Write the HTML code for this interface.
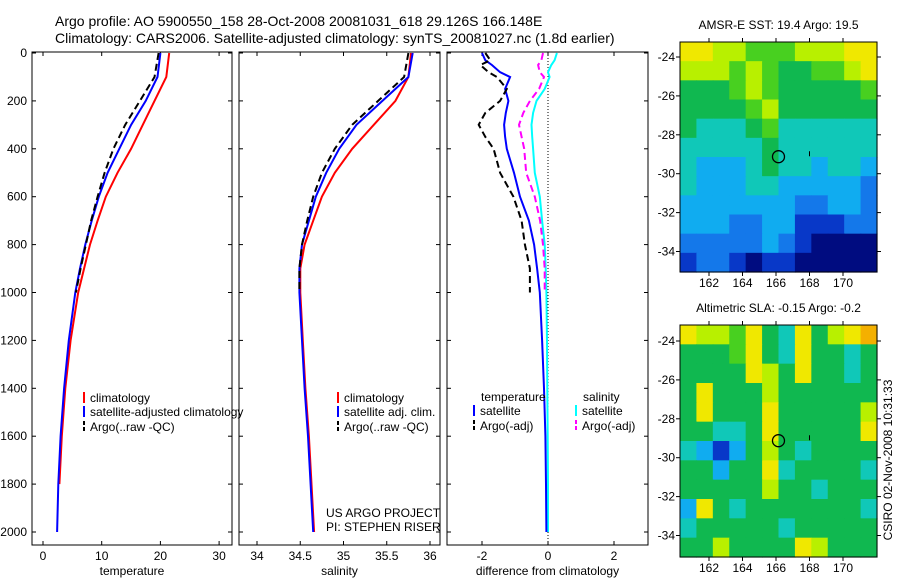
<!DOCTYPE html>
<html><head><meta charset="utf-8"><style>
body{margin:0;background:#fff;}
svg{font-family:"Liberation Sans",sans-serif;}
</style></head><body>
<svg id="c" width="900" height="580">
<text x="55" y="26" font-size="14">Argo profile: AO 5900550_158 28-Oct-2008 20081031_618 29.126S 166.148E</text>
<text x="55" y="43" font-size="14">Climatology: CARS2006. Satellite-adjusted climatology: synTS_20081027.nc (1.8d earlier)</text>
<text transform="translate(892,460) rotate(-90)" font-size="12" text-anchor="middle">CSIRO 02-Nov-2008 10:31:33</text>
<g id="g"></g>
</svg>
<script>
const NS="http://www.w3.org/2000/svg";
const g=document.getElementById('g');
function el(t,a,p){const e=document.createElementNS(NS,t);for(const k in a)e.setAttribute(k,a[k]);(p||g).appendChild(e);return e;}
// data
const pres=[0,100,200,300,400,500,600,700,800,900,1000,1200,1400,1600,1800,2000];
const tClim=[21.5,21,19,17,15,12.7,10.7,9.3,8,7,6,4.7,3.8,3.2,2.8];
const tSat=[20,19.5,17.5,15,13,11,9.5,8.3,7.2,6.3,5.5,4.4,3.6,3.0,2.6,2.4];
const tArgo=[19.7,19,16.5,14,12,10.5,9.3,8.2,7.3,6.4,5.6];
const sClim=[35.78,35.75,35.6,35.35,35.1,34.9,34.75,34.65,34.55,34.5,34.5,34.53,34.56,34.6,34.63,34.66];
const sSat=[35.8,35.75,35.45,35.15,34.95,34.8,34.68,34.6,34.52,34.49,34.49,34.52,34.55,34.59,34.62,34.65];
const sArgo=[35.75,35.7,35.4,35.1,34.9,34.75,34.65,34.58,34.52,34.49,34.49];
const dPres=[0,30,50,80,100,150,200,250,300,350,400,500,600,700,800,900,1000,1200,1400,1600,1800,2000];
const dTSat=[-2.0,-1.9,-1.7,-1.45,-1.15,-1.3,-1.2,-1.28,-1.33,-1.3,-1.25,-1.03,-0.85,-0.58,-0.42,-0.33,-0.25,-0.18,-0.12,-0.08,-0.06,-0.05];
const dTArgo=[-1.9,-1.75,-2.05,-1.8,-1.55,-1.25,-1.45,-1.9,-2.1,-1.9,-1.65,-1.45,-1.05,-0.8,-0.7,-0.55,-0.55];
const dSSat=[0.27,0.2,0.1,0,0.05,-0.1,-0.35,-0.45,-0.5,-0.48,-0.45,-0.4,-0.25,-0.18,-0.1,-0.07,-0.05,-0.03,-0.02,-0.01,0,0];
const dSArgo=[-0.15,-0.2,-0.3,-0.25,-0.12,-0.27,-0.55,-0.75,-0.88,-0.8,-0.72,-0.66,-0.4,-0.24,-0.15,-0.1,-0.1];
const yTicks=[0,200,400,600,800,1000,1200,1400,1600,1800,2000];
const TOP=52,BOT=545;
const py=p=>53+p*0.2395;
const panels=[
 {name:'temperature',x0:32,x1:232,v0:0,px0:43,k:5.87,ticks:[0,10,20,30],lab:'temperature'},
 {name:'salinity',x0:239,x1:440,v0:34,px0:257,k:86.5,ticks:[34,34.5,35,35.5,36],lab:'salinity'},
 {name:'difference',x0:447,x1:648,v0:0,px0:548,k:33,ticks:[-2,0,2],lab:'difference from climatology'}];
panels.forEach((P,i)=>{
 const r=el('rect',{x:P.x0,y:TOP,width:P.x1-P.x0,height:BOT-TOP,fill:'#fff',stroke:'#000','stroke-width':1});
 
 
 yTicks.forEach(t=>{
  el('line',{x1:P.x0,x2:P.x0+4,y1:py(t),y2:py(t),stroke:'#000'});
  el('line',{x1:P.x1,x2:P.x1-4,y1:py(t),y2:py(t),stroke:'#000'});
  if(i==0){const tx=el('text',{x:P.x0-5,y:py(t)+4,'font-size':12,'text-anchor':'end'});tx.textContent=t;
   
   }
 });
 P.ticks.forEach(t=>{const x=P.px0+(t-P.v0)*P.k;
  el('line',{x1:x,x2:x,y1:BOT,y2:BOT-4,stroke:'#000'});el('line',{x1:x,x2:x,y1:TOP,y2:TOP+4,stroke:'#000'});
  const tx=el('text',{x:x,y:560,'font-size':12,'text-anchor':'middle'});tx.textContent=t;
  
  
 });
 const xl=el('text',{x:(P.x0+P.x1)/2,y:575,'font-size':12,'text-anchor':'middle'});xl.textContent=P.lab;
 
 
});
function line(P,vals,ps,col,dash,name){
 const pts=vals.map((v,j)=>(P.px0+(v-P.v0)*P.k).toFixed(1)+','+py(ps[j]).toFixed(1)).join(' ');
 const l=el('polyline',{points:pts,fill:'none',stroke:col,'stroke-width':2,'stroke-dasharray':dash||'none'});
 
 
}
const P1=panels[0],P2=panels[1],P3=panels[2];
line(P1,tClim,pres,'#f00',null,'temp-climatology-line');
line(P1,tSat,pres,'#00f',null,'temp-satellite-line');
line(P1,tArgo,pres,'#000','7,4','temp-argo-line');
line(P2,sClim,pres,'#f00',null,'sal-climatology-line');
line(P2,sSat,pres,'#00f',null,'sal-satellite-line');
line(P2,sArgo,pres,'#000','7,4','sal-argo-line');
el('line',{x1:548,x2:548,y1:TOP,y2:BOT,stroke:'#000','stroke-dasharray':'1,2'});
line(P3,dSSat,dPres,'#0ff',null,'diff-sal-satellite-line');
line(P3,dSArgo,dPres,'#f0f','7,4','diff-sal-argo-line');
line(P3,dTSat,dPres,'#00f',null,'diff-temp-satellite-line');
line(P3,dTArgo,dPres,'#000','7,4','diff-temp-argo-line');
function leg(x,y,col,dash,txt,name){
 el('line',{x1:x,x2:x,y1:y-10,y2:y+1,stroke:col,'stroke-width':2,'stroke-dasharray':dash||'none'});
 const t=el('text',{x:x+6,y:y,'font-size':12});t.textContent=txt;
 
 
}
leg(84,402,'#f00',null,'climatology','legend-temp-climatology');
leg(84,416,'#00f',null,'satellite-adjusted climatology','legend-temp-satellite');
leg(84,431,'#000','4,2','Argo(..raw -QC)','legend-temp-argo');
leg(338,402,'#f00',null,'climatology','legend-sal-climatology');
leg(338,416,'#00f',null,'satellite adj. clim.','legend-sal-satellite');
leg(338,431,'#000','4,2','Argo(..raw -QC)','legend-sal-argo');
let t=el('text',{x:481,y:401,'font-size':12});t.textContent='temperature';
t=el('text',{x:583,y:401,'font-size':12});t.textContent='salinity';
leg(474,415,'#00f',null,'satellite','legend-diff-temp-satellite');
leg(474,430,'#000','4,2','Argo(-adj)','legend-diff-temp-argo');
leg(576,415,'#0ff',null,'satellite','legend-diff-sal-satellite');
leg(576,430,'#f0f','4,2','Argo(-adj)','legend-diff-sal-argo');
t=el('text',{x:326,y:517,'font-size':12});t.textContent='US ARGO PROJECT';
t=el('text',{x:326,y:531,'font-size':12});t.textContent='PI: STEPHEN RISER';
// maps
const sst=[
[8,8,7,7,6,6,6,7,7,7,8,8],[7,7,7,6,7,6,5,5,6,6,7,8],[5,5,5,6,7,6,5,5,5,5,5,6],[5,5,5,5,6,7,5,5,5,5,5,5],
[5,4,4,4,5,6,4,4,4,4,4,4],[4,4,4,4,4,5,4,4,4,4,4,4],[4,3,3,3,4,5,4,4,3,4,4,3],[4,3,3,3,4,4,3,3,3,3,3,2],
[3,3,3,3,3,3,3,2,2,3,3,2],[3,3,3,2,2,3,3,1,1,1,2,2],[2,2,2,2,2,3,2,1,0,0,0,0],[1,2,2,1,0,1,1,0,0,0,0,0]];
const sla=[
[8,7,7,6,8,5,4,8,5,7,8,9],[5,5,5,6,8,5,4,8,5,5,4,5],[5,5,5,5,8,7,5,8,5,5,4,5],[5,8,5,5,5,7,5,5,5,5,5,5],
[5,8,5,5,5,8,5,5,5,5,5,7],[5,5,4,4,5,8,5,5,5,5,5,8],[4,3,1,3,5,7,5,4,5,5,5,5],[5,5,3,5,5,8,4,5,5,5,5,4],
[5,5,5,5,5,7,5,5,4,5,5,5],[3,8,5,4,5,5,5,5,5,5,5,4],[4,5,5,5,5,5,4,5,5,5,5,5],[5,5,7,5,5,5,5,8,7,5,5,5]];
const cmap=['#000c80','#0838c8','#1478ea','#10acf0','#10c8b8','#10b850','#48d020','#b8f000','#f0e800','#f4b000'];
const lonTicks=[162,164,166,168,170], latTicks=[-24,-26,-28,-30,-32,-34];
function map(M,y0,y1,lat24,title,name){
 const x0=680,x1=877,kx=16.75,kl=19.45;
 const lx=v=>709+(v-162)*kx, ly=v=>lat24+(-24-v)*kl;
 const cw=(x1-x0)/12,ch=(y1-y0)/12;
 M.forEach((row,r)=>row.forEach((c,j)=>{
  const rc=el('rect',{x:x0+j*cw,y:y0+r*ch,width:cw+0.6,height:ch+0.6,fill:cmap[c]});
  
  
 }));
 const fr=el('rect',{x:x0,y:y0,width:x1-x0,height:y1-y0,fill:'none',stroke:'#000'});
 
 
 lonTicks.forEach(v=>{el('line',{x1:lx(v),x2:lx(v),y1:y1,y2:y1+4,stroke:'#000'});el('line',{x1:lx(v),x2:lx(v),y1:y0,y2:y0-4,stroke:'#000'});
  const tt=el('text',{x:lx(v),y:y1+15,'font-size':12,'text-anchor':'middle'});tt.textContent=v;
  
  });
 latTicks.forEach(v=>{el('line',{x1:x0-4,x2:x0,y1:ly(v),y2:ly(v),stroke:'#000'});el('line',{x1:x1,x2:x1+4,y1:ly(v),y2:ly(v),stroke:'#000'});
  const tt=el('text',{x:x0-5,y:ly(v)+4,'font-size':12,'text-anchor':'end'});tt.textContent=v;
  
  });
 const ci=el('circle',{cx:lx(166.148),cy:ly(-29.126),r:6,fill:'none',stroke:'#000','stroke-width':1.3});
 
 
 el('line',{x1:lx(168),x2:lx(168),y1:ly(-29)-3,y2:ly(-29)+2,stroke:'#000'});
 const tl=el('text',{x:(x0+x1)/2,y:y0-13,'font-size':12,'text-anchor':'middle'});tl.textContent=title;
 
 
}
map(sst,42,272,57,'AMSR-E SST: 19.4  Argo: 19.5','sst-map');
map(sla,325,557,341,'Altimetric SLA: -0.15  Argo: -0.2','sla-map');
</script>
</body></html>
